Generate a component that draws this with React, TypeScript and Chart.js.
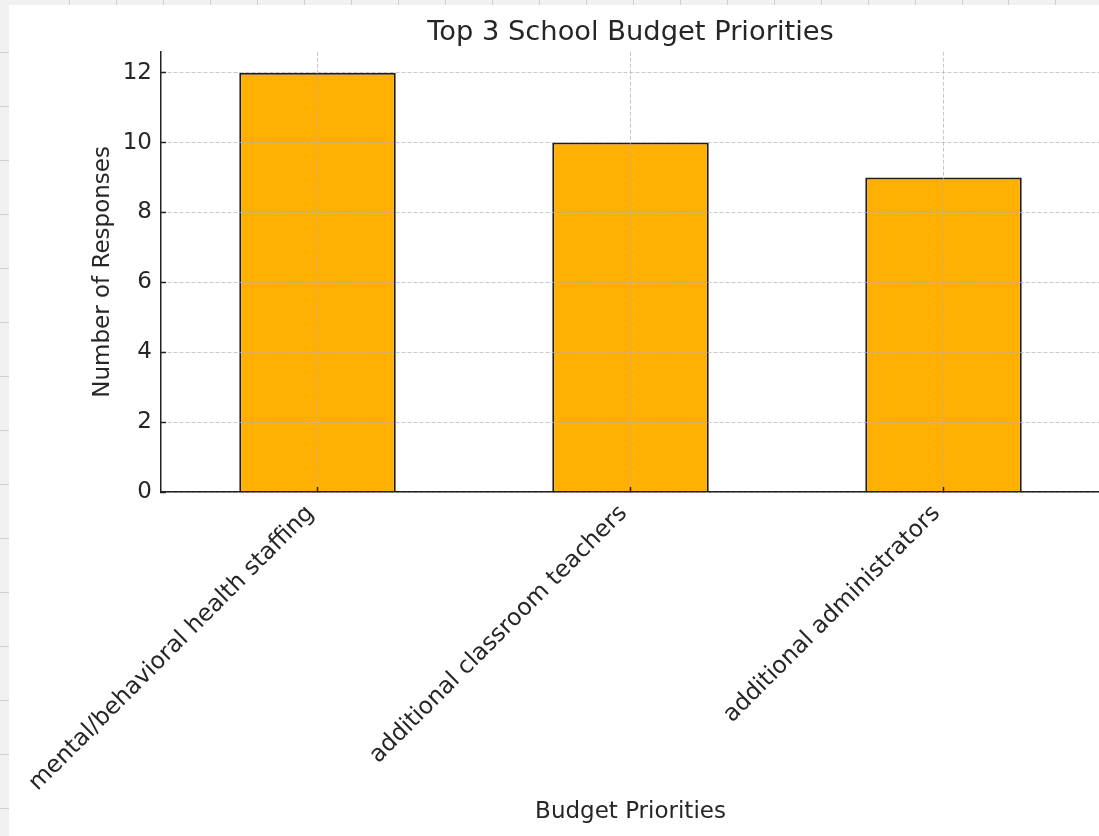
import React, { useEffect, useRef } from "react";
import { Chart, registerables } from "chart.js";

Chart.register(...registerables);

const categories = [
  "mental/behavioral health staffing",
  "additional classroom teachers",
  "additional administrators",
];
const responses = [12, 10, 9];
const yTickValues = [0, 2, 4, 6, 8, 10, 12];
const yMin = 0;
const yMax = 12.6;
const chartTitle = "Top 3 School Budget Priorities";
const xAxisTitle = "Budget Priorities";
const yAxisTitle = "Number of Responses";

const FONT = "'DejaVu Sans', 'Liberation Sans', sans-serif";
const TEXT = "#262626";
const GRID = "rgba(176,176,176,0.7)";
const AXIS = "#222222";

export default function App() {
  const ref = useRef<HTMLCanvasElement>(null);

  useEffect(() => {
    if (!ref.current) return;
    const chart = new Chart(ref.current, {
      type: "bar",
      data: {
        labels: categories,
        datasets: [
          {
            data: responses,
            backgroundColor: "#ffb000",
            borderColor: "#1c1c1c",
            borderWidth: 2,
            categoryPercentage: 1,
            barPercentage: 0.5,
          },
        ],
      },
      options: {
        animation: false,
        responsive: false,
        devicePixelRatio: 1,
        layout: { padding: 0 },
        plugins: {
          legend: { display: false },
          tooltip: { enabled: false },
          title: {
            display: true,
            text: chartTitle,
            fullSize: false,
            color: TEXT,
            font: { family: FONT, size: 27.3, weight: "normal" },
            padding: { top: 12, bottom: 2 },
          },
        },
        scales: {
          x: {
            offset: true,
            grid: {
              offset: false,
              color: GRID,
              lineWidth: 1,
              z: 1,
              drawTicks: true,
              tickLength: -5,
              tickColor: AXIS,
              tickWidth: 1.5,
            },
            border: { color: AXIS, width: 1.5, dash: [4, 2], z: 2 },
            ticks: {
              minRotation: 45,
              maxRotation: 45,
              autoSkip: false,
              padding: 6,
              labelOffset: -7,
              color: TEXT,
              font: { family: FONT, size: 23.5, lineHeight: "47.5px" },
            },
            title: {
              display: true,
              text: xAxisTitle,
              color: TEXT,
              font: { family: FONT, size: 23 },
              padding: { top: 0, bottom: 10 },
            },
            afterFit: (s: any) => {
              s.height = 344;
              s.paddingLeft = 0;
              s.paddingRight = 0;
            },
          },
          y: {
            min: yMin,
            max: yMax,
            afterBuildTicks: (s: any) => {
              s.ticks = yTickValues.map((v) => ({ value: v }));
            },
            grid: {
              color: GRID,
              lineWidth: 1,
              z: 1,
              drawTicks: true,
              tickLength: -5,
              tickColor: AXIS,
              tickWidth: 1.5,
            },
            border: { color: AXIS, width: 1.5, dash: [4, 2], z: 2 },
            ticks: {
              padding: 14,
              color: TEXT,
              font: { family: FONT, size: 23 },
            },
            title: {
              display: true,
              text: yAxisTitle,
              color: TEXT,
              font: { family: FONT, size: 23 },
              padding: { top: 80, bottom: 0 },
            },
            afterFit: (s: any) => {
              s.width = 152;
              s.paddingTop = 0;
              s.paddingBottom = 0;
            },
          },
        },
      },
    } as any);
    return () => chart.destroy();
  }, []);

  return (
    <div
      style={{
        position: "fixed",
        left: 0,
        top: 0,
        width: 1099,
        height: 836,
        background: "#f2f0f1",
        overflow: "hidden",
      }}
    >
      <div
        style={{
          position: "absolute",
          left: 0,
          top: 0,
          width: 9,
          height: 836,
          background:
            "repeating-linear-gradient(to bottom, transparent 0px, transparent 52px, #cfcfcf 52px, #cfcfcf 53px, transparent 53px, transparent 54px)",
        }}
      />
      <div
        style={{
          position: "absolute",
          left: 0,
          top: 0,
          width: 1099,
          height: 5,
          background:
            "repeating-linear-gradient(to right, transparent 0px, transparent 22.5px, #cfcfcf 22.5px, #cfcfcf 23.5px, transparent 23.5px, transparent 46.95px)",
        }}
      />
      <div
        style={{
          position: "absolute",
          left: 9,
          top: 5,
          width: 1090,
          height: 831,
          background: "#ffffff",
          overflow: "hidden",
        }}
      >
        <canvas ref={ref} width={1091} height={831} style={{ display: "block" }} />
      </div>
    </div>
  );
}
